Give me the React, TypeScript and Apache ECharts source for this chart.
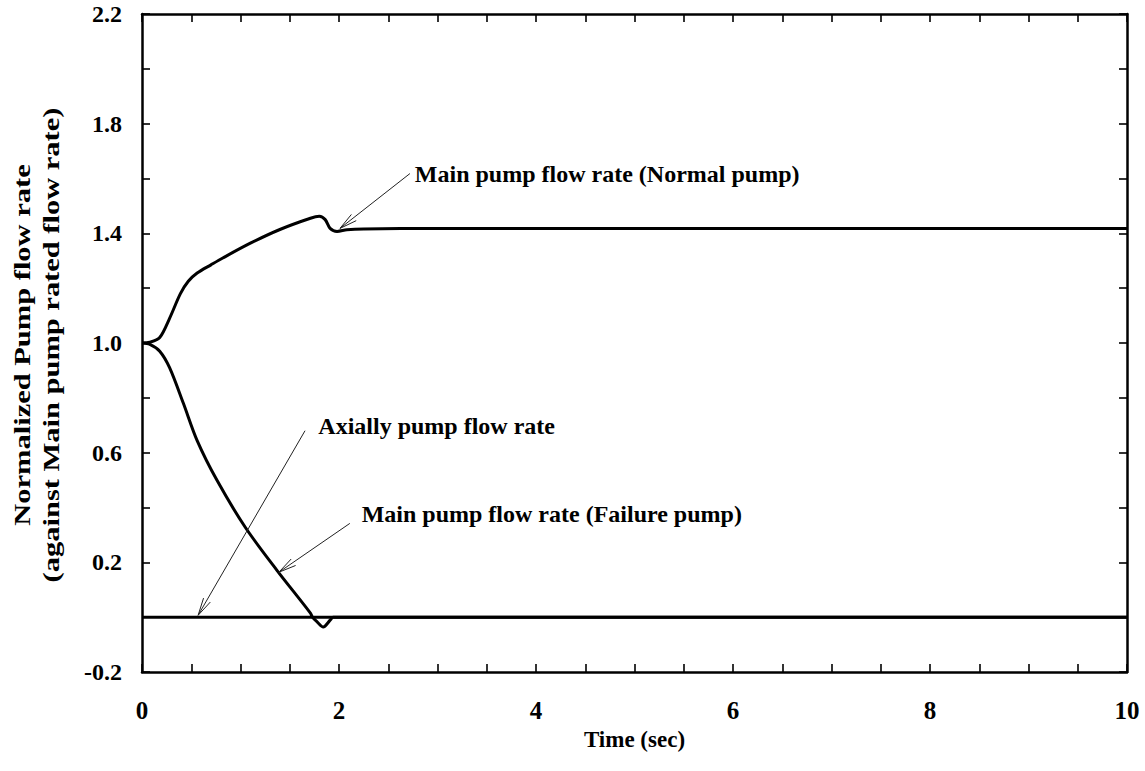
import React, { useEffect, useRef } from "react";
import * as echarts from "echarts";

const FONT = '"Liberation Serif", "Times New Roman", serif';

// Time (sec)
const normalT = [0, 0.08, 0.18, 0.28, 0.39, 0.47, 0.56, 0.7, 0.82, 1.1, 1.4, 1.71, 1.8, 1.86, 1.91, 1.98, 2.08, 2.25, 3.0, 10];
const normalV = [1.0, 1.003, 1.02, 1.09, 1.18, 1.225, 1.255, 1.285, 1.31, 1.364, 1.414, 1.455, 1.462, 1.45, 1.418, 1.407, 1.413, 1.416, 1.418, 1.418];

const failureT = [0, 0.08, 0.18, 0.28, 0.42, 0.56, 0.76, 1.05, 1.37, 1.71, 1.73, 1.78, 1.84, 1.91, 1.94, 2.0, 10];
const failureV = [1.0, 0.995, 0.97, 0.91, 0.78, 0.644, 0.5, 0.327, 0.171, 0.015, 0.0, -0.018, -0.036, -0.011, 0.0, 0.0, 0.0];

const axialT = [0, 10];
const axialV = [0, 0];

const xTicks = { min: 0, max: 10, interval: 2 };
const yTicks = { min: -0.2, max: 2.2, interval: 0.4 };

const seriesNames = [
  "Main pump flow rate (Normal pump)",
  "Main pump flow rate (Failure pump)",
  "Axially pump flow rate",
];

// annotation anchors in data coordinates [time, value]
const annotations = [
  { text: "Main pump flow rate (Normal pump)", label: [2.77, 1.615], tail: [2.72, 1.618], head: [2.01, 1.418] },
  { text: "Axially pump flow rate", label: [1.79, 0.698], tail: [1.655, 0.68], head: [0.57, 0.007] },
  { text: "Main pump flow rate (Failure pump)", label: [2.23, 0.378], tail: [2.11, 0.342], head: [1.39, 0.164] },
];

const yTitle = "Normalized Pump flow rate\n(against Main pump rated flow rate)";
const xTitle = "Time (sec)";

const zip = (t: number[], v: number[]) => t.map((x, i) => [x, v[i]]);

export default function App() {
  const ref = useRef<HTMLDivElement>(null);
  useEffect(() => {
    if (!ref.current) return;
    const chart = echarts.init(ref.current, null, { renderer: "svg" });
    const lineStyle = { color: "#000", width: 2.5 };
    const tickStyle = { color: "#000", width: 1.6 };
    const xBase = (pos: string, labels: boolean) => ({
      type: "value",
      position: pos,
      min: xTicks.min,
      max: xTicks.max,
      interval: xTicks.interval,
      axisLine: { show: true, onZero: false, lineStyle },
      axisTick: { show: true, inside: true, length: 8, lineStyle: tickStyle },
      minorTick: { show: true, splitNumber: 4, length: 8, lineStyle: tickStyle },
      splitLine: { show: false },
      axisLabel: {
        show: labels,
        margin: 26,
        color: "#000",
        fontFamily: FONT,
        fontWeight: "bold",
        fontSize: 25,
      },
    });
    const yBase = (pos: string, labels: boolean) => ({
      type: "value",
      position: pos,
      min: yTicks.min,
      max: yTicks.max,
      interval: yTicks.interval,
      axisLine: { show: true, onZero: false, lineStyle },
      axisTick: { show: true, inside: true, length: 8, lineStyle: tickStyle },
      minorTick: { show: true, splitNumber: 2, length: 8, lineStyle: tickStyle },
      splitLine: { show: false },
      axisLabel: {
        show: labels,
        margin: 20,
        color: "#000",
        fontFamily: FONT,
        fontWeight: "bold",
        fontSize: 24,
        formatter: (v: number) => v.toFixed(1),
      },
    });
    const xMain: any = xBase("bottom", true);
    xMain.name = xTitle;
    xMain.nameLocation = "middle";
    xMain.nameGap = 49;
    xMain.nameTextStyle = { color: "#000", fontFamily: FONT, fontWeight: "bold", fontSize: 23 };

    const mk = (name: string, data: number[][]) => ({
      name,
      type: "line",
      data,
      xAxisIndex: 0,
      yAxisIndex: 0,
      showSymbol: false,
      symbol: "none",
      smooth: 0.3,
      lineStyle: { color: "#000", width: 3 },
      z: 3,
    });

    chart.setOption({
      animation: false,
      backgroundColor: "#fff",
      grid: { left: 142, right: 18, top: 14, bottom: 99, containLabel: false, outerBoundsMode: "none" },
      xAxis: [xMain, xBase("top", false)],
      yAxis: [yBase("left", true), yBase("right", false)],
      series: [
        mk(seriesNames[0], zip(normalT, normalV)),
        mk(seriesNames[1], zip(failureT, failureV)),
        mk(seriesNames[2], zip(axialT, axialV)),
      ],
    });

    const toPx = (p: number[]) => chart.convertToPixel({ gridIndex: 0 }, p) as number[];
    const graphics: any[] = [];
    const thin = { stroke: "#222", lineWidth: 1 };
    annotations.forEach((a) => {
      const [tx, ty] = toPx(a.tail);
      const [hx, hy] = toPx(a.head);
      const [lx, ly] = toPx(a.label);
      graphics.push({ type: "line", shape: { x1: tx, y1: ty, x2: hx, y2: hy }, style: thin, z: 10 });
      const ang = Math.atan2(ty - hy, tx - hx);
      [-0.22, 0.22].forEach((d) => {
        graphics.push({
          type: "line",
          shape: { x1: hx, y1: hy, x2: hx + 18 * Math.cos(ang + d), y2: hy + 18 * Math.sin(ang + d) },
          style: thin,
          z: 10,
        });
      });
      graphics.push({
        type: "text",
        x: lx,
        y: ly,
        z: 10,
        style: {
          text: a.text,
          fill: "#000",
          fontFamily: FONT,
          fontWeight: "bold",
          fontSize: 24,
          align: "left",
          verticalAlign: "middle",
          textAlign: "left",
          textVerticalAlign: "middle",
        },
      });
    });
    graphics.push({
      type: "text",
      x: 37,
      y: 345,
      rotation: Math.PI / 2,
      scaleX: 1.27,
      z: 10,
      style: {
        text: yTitle,
        fill: "#000",
        fontFamily: FONT,
        fontWeight: "bold",
        fontSize: 24,
        lineHeight: 29,
        align: "center",
        verticalAlign: "middle",
        textAlign: "center",
        textVerticalAlign: "middle",
      },
    });
    chart.setOption({ graphic: graphics });

    return () => chart.dispose();
  }, []);
  return (
    <div
      ref={ref}
      style={{ position: "fixed", left: 0, top: 0, width: 1145, height: 771, background: "#fff" }}
    />
  );
}
